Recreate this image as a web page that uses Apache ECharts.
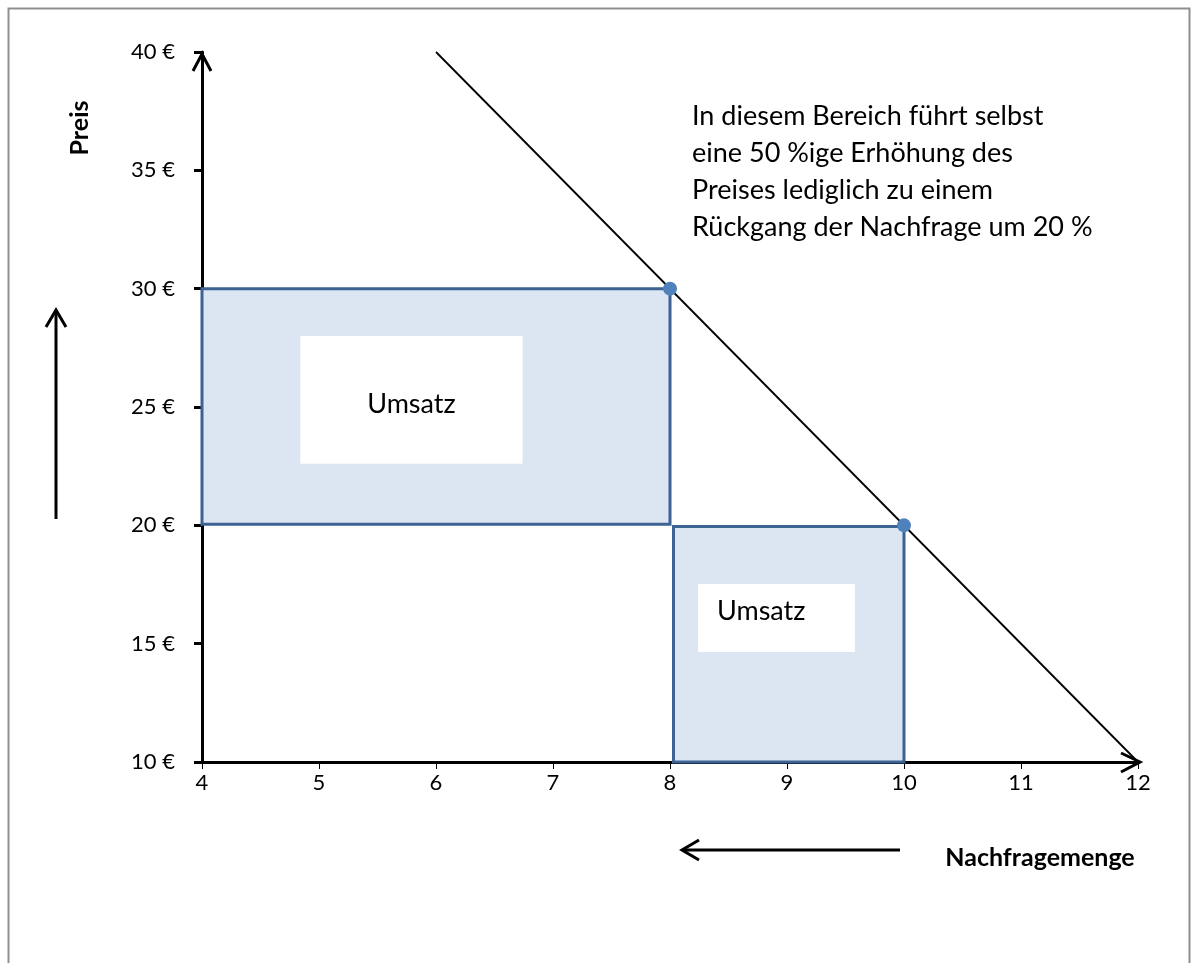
<!DOCTYPE html>
<html>
<head>
<meta charset="utf-8">
<script src="https://cdn.jsdelivr.net/npm/echarts@6/dist/echarts.min.js"></script>
<style>
html,body{margin:0;padding:0;background:#fff;}
#chart{width:1199px;height:963px;}
</style>
</head>
<body>
<div id="chart"></div>
<script>
// ---- data ----
var xTicks = [4, 5, 6, 7, 8, 9, 10, 11, 12];
var yTicks = [10, 15, 20, 25, 30, 35, 40];
// demand line (Nachfragemenge, Preis)
var demandLine = [[6, 40], [12, 10]];
// highlighted points
var points = [[8, 30], [10, 20]];
// revenue rectangles [x0, y0, x1, y1]
var revenueRects = [[4, 20.05, 8, 30], [8.03, 10, 10, 19.95]];
// white label boxes [x0, y0, x1, y1]
var labelBoxes = [[4.84, 22.6, 6.74, 28.0], [8.24, 14.65, 9.58, 17.52]];
var labelTexts = ['Umsatz', 'Umsatz'];
var labelAnchors = [[5.79, 25.1], [8.78, 16.35]];
var note = ['In diesem Bereich führt selbst', 'eine 50 %ige Erhöhung des', 'Preises lediglich zu einem', 'Rückgang der Nachfrage um 20 %'];

var FONT = 'Lato';
var chart = echarts.init(document.getElementById('chart'), null, {renderer: 'canvas'});

var option = {
  animation: false,
  backgroundColor: '#ffffff',
  grid: {left: 202, right: 61, top: 52, bottom: 201, containLabel: false},
  xAxis: {
    type: 'value', min: 4, max: 12, interval: 1,
    axisLine: {show: true, onZero: false, lineStyle: {color: '#000', width: 3}},
    axisTick: {show: true, length: 7, lineStyle: {color: '#000', width: 1}},
    axisLabel: {color: '#000', fontFamily: FONT, fontSize: 22, margin: 10,
      formatter: function (v) { return xTicks.indexOf(v) >= 0 ? String(v) : ''; }},
    splitLine: {show: false}
  },
  yAxis: {
    type: 'value', min: 10, max: 40, interval: 5,
    axisLine: {show: true, onZero: false, lineStyle: {color: '#000', width: 3}},
    axisTick: {show: true, length: 8, lineStyle: {color: '#000', width: 3}},
    axisLabel: {color: '#000', fontFamily: FONT, fontSize: 22, margin: 27,
      formatter: function (v) { return yTicks.indexOf(v) >= 0 ? v + ' €' : ''; }},
    splitLine: {show: false}
  },
  graphic: [
    {type: 'rect', shape: {x: 8.5, y: 8.5, width: 1181, height: 980}, style: {fill: null, stroke: '#8f8f8f', lineWidth: 2}, z: 0, silent: true},
    {type: 'text', x: 80, y: 128, rotation: Math.PI / 2, style: {text: 'Preis', font: 'bold 25px "' + FONT + '"', fill: '#000', align: 'center', verticalAlign: 'middle'}},
    {type: 'text', x: 1040, y: 858, style: {text: 'Nachfragemenge', font: 'bold 25px "' + FONT + '"', fill: '#000', align: 'center', verticalAlign: 'middle'}},
    {type: 'text', x: 692, y: 98, style: {text: note.join('\n'), font: '27px "' + FONT + '"', lineHeight: 37, fill: '#000', align: 'left', verticalAlign: 'top'}},
    // decorative arrows outside the plot
    {type: 'line', shape: {x1: 56, y1: 519, x2: 56, y2: 312}, style: {stroke: '#000', lineWidth: 3}},
    {type: 'polyline', shape: {points: [[46, 327], [56, 310], [66, 327]]}, style: {stroke: '#000', lineWidth: 3, fill: null}},
    {type: 'line', shape: {x1: 900, y1: 850, x2: 683, y2: 850}, style: {stroke: '#000', lineWidth: 3}},
    {type: 'polyline', shape: {points: [[699, 840], [682, 850], [699, 860]]}, style: {stroke: '#000', lineWidth: 3, fill: null}}
  ],
  series: [
    {
      type: 'custom', name: 'Umsatz', z: 1,
      data: revenueRects,
      renderItem: function (params, api) {
        var p0 = api.coord([api.value(0), api.value(3)]);
        var p1 = api.coord([api.value(2), api.value(1)]);
        return {type: 'rect', shape: {x: p0[0], y: p0[1], width: p1[0] - p0[0], height: p1[1] - p0[1]},
          style: {fill: '#dce6f2', stroke: '#3d6294', lineWidth: 3}};
      }
    },
    {
      type: 'custom', name: 'Labels', z: 2,
      data: labelBoxes.map(function (b, i) { return b.concat([labelAnchors[i][0], labelAnchors[i][1], i]); }),
      renderItem: function (params, api) {
        var p0 = api.coord([api.value(0), api.value(3)]);
        var p1 = api.coord([api.value(2), api.value(1)]);
        var pa = api.coord([api.value(4), api.value(5)]);
        return {type: 'group', children: [
          {type: 'rect', shape: {x: p0[0], y: p0[1], width: p1[0] - p0[0], height: p1[1] - p0[1]}, style: {fill: '#ffffff'}},
          {type: 'text', x: pa[0], y: pa[1], style: {text: labelTexts[api.value(6)], font: '27px "' + FONT + '"', fill: '#000', align: 'center', verticalAlign: 'middle'}}
        ]};
      }
    },
    {
      type: 'line', name: 'Nachfrage', data: demandLine, symbol: 'none', z: 3,
      lineStyle: {color: '#000', width: 1.8}
    },
    {
      type: 'scatter', name: 'Punkte', data: points, symbolSize: 14, z: 4,
      itemStyle: {color: '#4f81bd', opacity: 1}
    },
    {
      type: 'custom', name: 'AxisArrows', z: 5,
      data: [[4, 40, 0], [12, 10, 1]],
      renderItem: function (params, api) {
        var p = api.coord([api.value(0), api.value(1)]);
        var pts;
        if (api.value(2) === 0) {
          pts = [[p[0] - 9, p[1] + 19], [p[0], p[1] + 2], [p[0] + 9, p[1] + 19]];
        } else {
          pts = [[p[0] - 17, p[1] - 9], [p[0] + 2, p[1]], [p[0] - 17, p[1] + 10]];
        }
        return {type: 'polyline', shape: {points: pts}, style: {stroke: '#000', lineWidth: 3, fill: null}};
      }
    }
  ]
};
chart.setOption(option);
</script>
</body>
</html>
